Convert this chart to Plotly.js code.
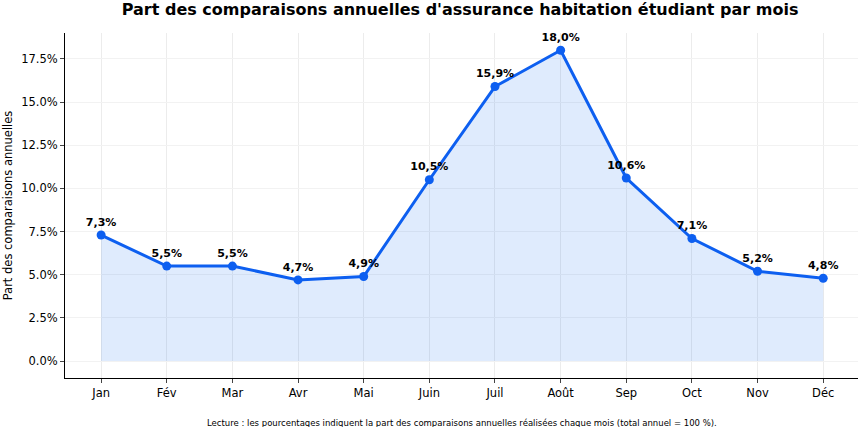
<!DOCTYPE html>
<html>
<head>
<meta charset="utf-8">
<script src="https://cdn.plot.ly/plotly-3.0.1.min.js"></script>
<style>body{margin:0;background:#fff}#chart{width:860px;height:427px}</style>
</head>
<body>
<div id="chart"></div>
<script>
const months = ['Jan','Fév','Mar','Avr','Mai','Juin','Juil','Août','Sep','Oct','Nov','Déc'];
const shares = [7.3, 5.5, 5.5, 4.7, 4.9, 10.5, 15.9, 18.0, 10.6, 7.1, 5.2, 4.8];
const labels = shares.map(v => v.toFixed(1).replace('.', ',') + '%');
const yTicks = [0, 2.5, 5, 7.5, 10, 12.5, 15, 17.5];
const yTickText = yTicks.map(v => v.toFixed(1) + '%');

const idx = months.map((m, i) => i);
const font = 'DejaVu Sans, sans-serif';

const trace = {
  type: 'scatter',
  mode: 'lines+markers+text',
  x: idx,
  y: shares,
  text: labels,
  textposition: 'top center',
  textfont: { family: font, size: 11, color: '#000', weight: 'bold' },
  fill: 'tozeroy',
  fillcolor: 'rgba(30,110,240,0.14)',
  line: { color: '#0d5ff0', width: 3 },
  marker: { color: '#0d5ff0', size: 9 },
  hoverinfo: 'skip'
};

const layout = {
  width: 860, height: 427,
  margin: { l: 65, r: 2, t: 33, b: 49 },
  paper_bgcolor: '#fff', plot_bgcolor: '#fff',
  font: { family: font, size: 11.5, color: '#000' },
  title: { text: "<b>Part des comparaisons annuelles d'assurance habitation étudiant par mois</b>",
           font: { family: font, size: 16 }, x: 0.535, xanchor: 'center', y: 0.99, yanchor: 'top' },
  showlegend: false,
  xaxis: {
    range: [-0.55, 11.53], tickvals: idx, ticktext: months,
    showline: true, linecolor: '#000', linewidth: 1, ticks: 'outside', ticklen: 4,
    showgrid: true, gridcolor: '#ececec', zeroline: false
  },
  yaxis: {
    range: [-0.98, 19], tickvals: yTicks, ticktext: yTickText,
    showline: true, linecolor: '#000', linewidth: 1, ticks: 'outside', ticklen: 4,
    showgrid: true, gridcolor: '#f2f2f2', zeroline: false,
    title: { text: 'Part des comparaisons annuelles', font: { family: font, size: 11.5 }, standoff: 6 }
  },
  annotations: [{
    text: 'Lecture : les pourcentages indiquent la part des comparaisons annuelles réalisées chaque mois (total annuel = 100 %).',
    xref: 'paper', yref: 'paper', x: 0.5, y: -0.11, xanchor: 'center', yanchor: 'top',
    showarrow: false, font: { family: font, size: 8.5 }
  }]
};

Plotly.newPlot('chart', [trace], layout, { displayModeBar: false, staticPlot: true });
</script>
</body>
</html>
